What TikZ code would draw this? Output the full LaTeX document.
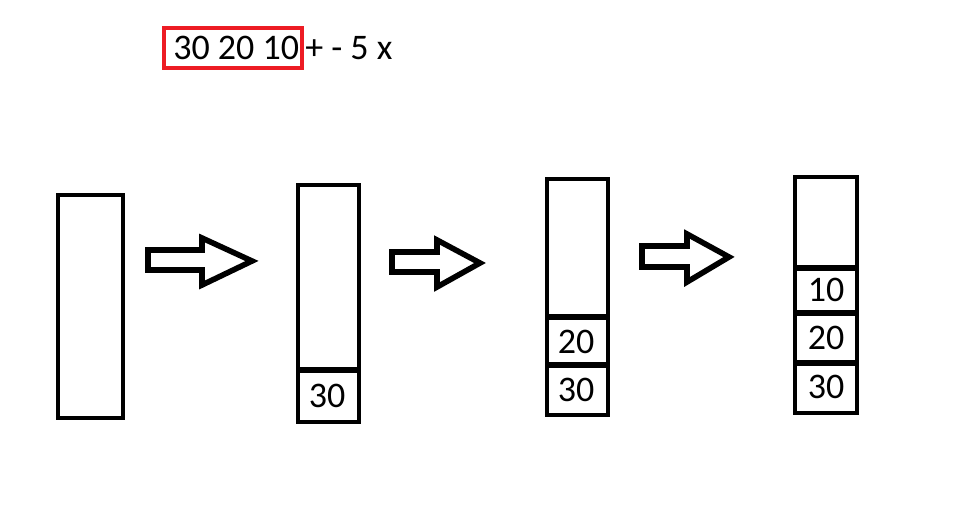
\documentclass[tikz,border=0pt]{standalone}
\usepackage{fontspec}
\setmainfont{Carlito}
\begin{document}
\begin{tikzpicture}[x=0.75pt,y=-0.75pt,
  stackline/.style={draw=black,line width=3.7pt},
  divline/.style={draw=black,line width=4.2pt},
  arrowline/.style={draw=black,line width=4.2pt,line join=miter,fill=white},
  celltext/.style={font=\fontsize{27}{32}\selectfont,inner sep=0pt},
  toptext/.style={font=\fontsize{27}{32}\selectfont,inner sep=0pt,anchor=base west}]
\useasboundingbox (0,0) rectangle (957,504);
\fill[white] (0,0) rectangle (957,504);

% top expression
\node[toptext] (expr) at (173,59) {30 20 10};
\node[toptext] (rest) at (305,59) {+ - 5 x};
\draw[draw={rgb,255:red,237;green,28;blue,36},line width=2.6pt] (164,28) rectangle (302,68);

% stack 1
\draw[stackline] (58,195) rectangle (123,418);

% stack 2
\draw[stackline] (298,185) rectangle (359,422);
\draw[divline] (298,370) -- (359,370);
\node[celltext] (s2c1) at (327,396) {30};

% stack 3
\draw[stackline] (547,179) rectangle (608,415);
\draw[divline] (547,317) -- (608,317);
\draw[divline] (547,365) -- (608,365);
\node[celltext] (s3c2) at (576,342) {20};
\node[celltext] (s3c1) at (576,390) {30};

% stack 4
\draw[stackline] (795,177) rectangle (857,413);
\draw[divline] (795,268) -- (857,268);
\draw[divline] (795,313) -- (857,313);
\draw[divline] (795,363) -- (857,363);
\node[celltext] (s4c3) at (826,290) {10};
\node[celltext] (s4c2) at (826,338) {20};
\node[celltext] (s4c1) at (826,387) {30};

% block arrows
\draw[arrowline] (148,250) -- (202,250) -- (202,238) -- (252,261) -- (202,285) -- (202,270) -- (148,270) -- cycle;
\draw[arrowline] (392,252) -- (437,252) -- (437,240) -- (480,263) -- (437,287) -- (437,272) -- (392,272) -- cycle;
\draw[arrowline] (642,246) -- (687,246) -- (687,234) -- (729,257) -- (687,282) -- (687,267) -- (642,267) -- cycle;
\end{tikzpicture}
\end{document}
